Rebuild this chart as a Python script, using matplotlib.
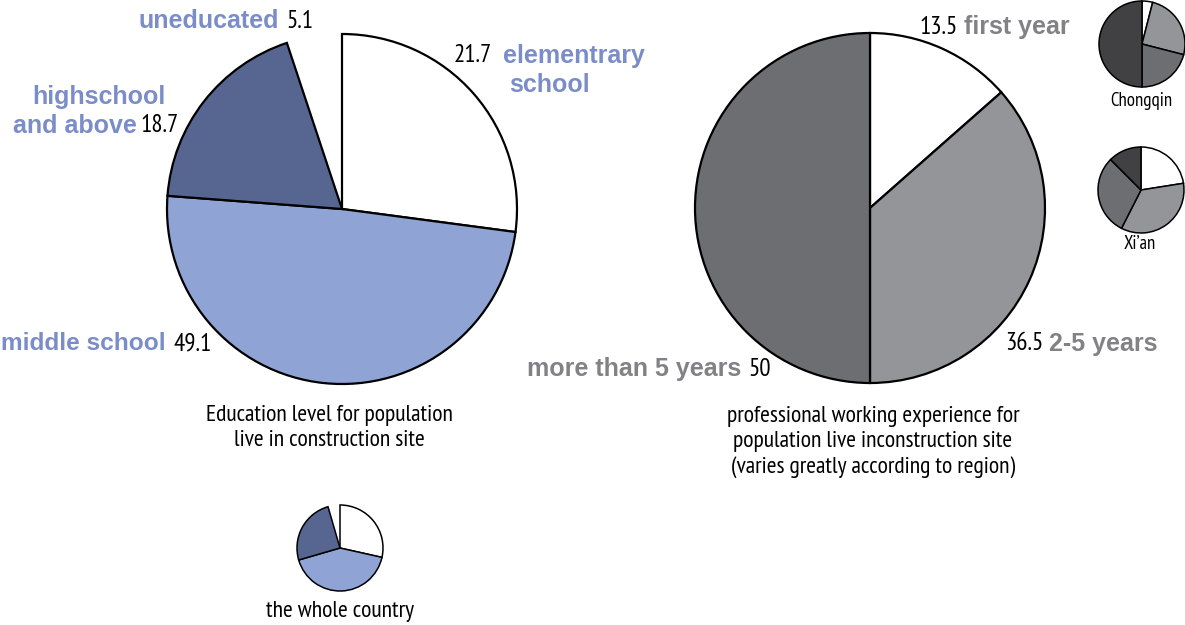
import matplotlib.pyplot as plt

W, H = 1185, 625

# education level (construction site); wedge sizes as drawn, labels as printed
edu_names = ["elementrary", "school", "middle school", "highschool", "and above", "uneducated"]
edu_sizes = [27.1, 49.1, 18.7, 5.1]
edu_labels = ["21.7", "49.1", "18.7", "5.1"]
edu_colors = ["white", "#8FA3D5", "#566690", "none"]

# education level, whole country
country_sizes = [28.5, 42.0, 25.0, 4.5]

# working experience
exp_names = ["first year", "2-5 years", "more than 5 years"]
exp_sizes = [13.5, 36.5, 50]
exp_labels = ["13.5", "36.5", "50"]
exp_colors = ["white", "#939598", "#6D6E71"]

# regional experience breakdown
chongqin_sizes = [4, 25, 21, 50]
xian_sizes = [22.5, 35, 30, 12.5]
region_colors = ["white", "#939598", "#6D6E71", "#414042"]

BLUE = "#7B8DC8"
GRAY = "#808285"
NARROW = ["PT Sans Narrow", "DejaVu Sans"]
BOLD = ["Liberation Sans", "DejaVu Sans"]

fig = plt.figure(figsize=(W / 100, H / 100), dpi=100)
ax = fig.add_axes([0, 0, 1, 1])


def draw_pie(sizes, colors, center, radius, lw):
    wedges, _ = ax.pie(sizes, colors=[c if c != "none" else "white" for c in colors],
                       startangle=90, counterclock=False, center=center, radius=radius,
                       frame=True, wedgeprops=dict(edgecolor="black", linewidth=lw))
    # the "uneducated" share is left as an empty gap
    for w, c in zip(wedges, colors):
        if c == "none":
            w.set_visible(False)
    return wedges


# main pies
draw_pie(edu_sizes, edu_colors, (342, H - 209), 175, 1.6)
draw_pie(exp_sizes, exp_colors, (870, H - 208), 175, 1.6)
# small pies
draw_pie(country_sizes, edu_colors, (340, H - 548), 43, 1.1)
draw_pie(chongqin_sizes, region_colors, (1142, H - 44), 43, 1.1)
draw_pie(xian_sizes, region_colors, (1141, H - 190), 43, 1.1)

ax.set_xlim(0, W)
ax.set_ylim(0, H)
ax.set_aspect("equal")
ax.axis("off")


def label(x, y, s, color="black", bold=False, size=18, ha="left", **kw):
    ax.text(x, H - y, s, color=color, fontsize=size, ha=ha, va="center",
            family=BOLD if bold else NARROW, fontweight="bold" if bold else "normal", **kw)


# education labels
label(279, 21, edu_names[5], BLUE, True, ha="right")
label(286, 21, edu_labels[3])
label(165, 97, edu_names[3], BLUE, True, ha="right")
label(137, 126, edu_names[4], BLUE, True, ha="right")
label(140, 126, edu_labels[2])
label(492, 56, edu_labels[0], ha="right")
label(503, 56, edu_names[0], BLUE, True)
label(509, 85, edu_names[1], BLUE, True)
label(166, 344, edu_names[2], BLUE, True, size=17.6, ha="right")
label(173, 344, edu_labels[1])

# experience labels
label(958, 27, exp_labels[0], ha="right")
label(964, 27, exp_names[0], GRAY, True)
label(1043, 344, exp_labels[1], ha="right")
label(1049, 344, exp_names[1], GRAY, True)
label(741, 369, exp_names[2], GRAY, True, ha="right")
label(748, 369, exp_labels[2])

# captions
label(329, 428, "Education level for population\nlive in construction site",
      size=17, ha="center", linespacing=1.22, multialignment="center")
label(873, 442, "professional working experience for\npopulation live inconstruction site\n"
      "(varies greatly according to region)",
      size=17, ha="center", linespacing=1.22, multialignment="center")
label(340, 612, "the whole country", size=17, ha="center")
label(1141, 101, "Chongqin", size=13.5, ha="center")
label(1140, 244, "Xi\u2019an", size=13.5, ha="center")

fig.savefig("out.png", dpi=100)
